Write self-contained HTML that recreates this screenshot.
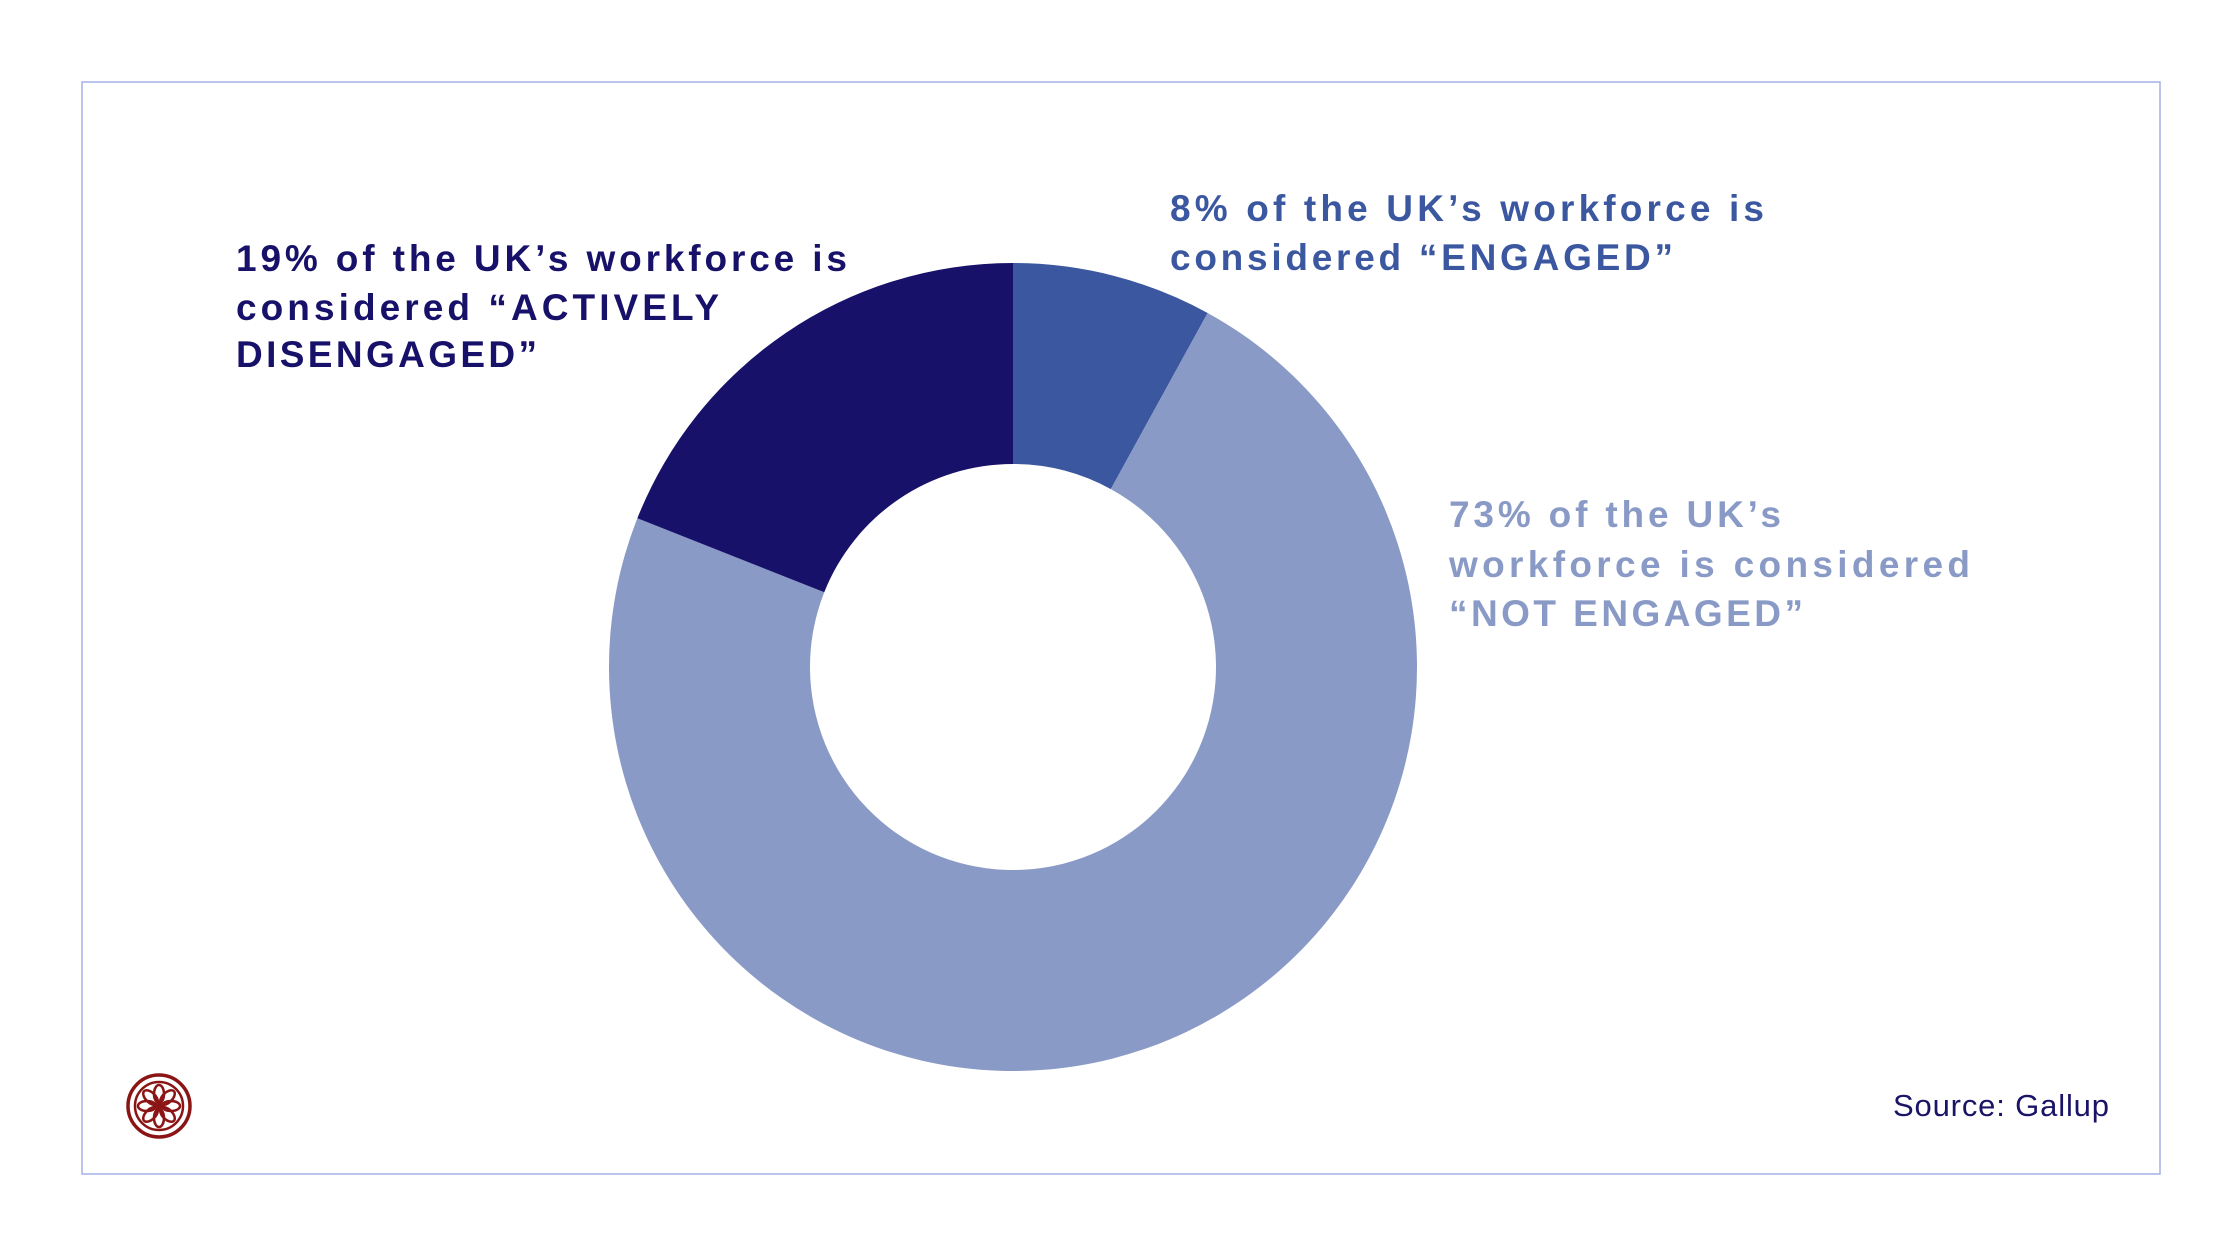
<!DOCTYPE html>
<html><head><meta charset="utf-8"><style>
html,body{margin:0;padding:0;background:#fff;}
svg{display:block;font-family:"Liberation Sans",sans-serif;}
</style></head><body>
<svg width="2240" height="1260" viewBox="0 0 2240 1260">
<rect x="82" y="82" width="2078" height="1092" fill="#fff" stroke="#a4b0e6" stroke-width="1.5"/>
<g id="donut"></g>
<g font-weight="bold" font-size="37">
<text x="236" y="271" textLength="611" lengthAdjust="spacing" fill="#17116a">19% of the UK’s workforce is</text>
<text x="236" y="320" textLength="483" lengthAdjust="spacing" fill="#17116a">considered “ACTIVELY</text>
<text x="236" y="367" textLength="301" lengthAdjust="spacing" fill="#17116a">DISENGAGED”</text>
<text x="1170" y="221" textLength="594" lengthAdjust="spacing" fill="#3a57a0">8% of the UK’s workforce is</text>
<text x="1170" y="270" textLength="503" lengthAdjust="spacing" fill="#3a57a0">considered “ENGAGED”</text>
<text x="1449" y="527" textLength="332" lengthAdjust="spacing" fill="#8a9ac6">73% of the UK’s</text>
<text x="1449" y="577" textLength="521" lengthAdjust="spacing" fill="#8a9ac6">workforce is considered</text>
<text x="1449" y="626" textLength="354" lengthAdjust="spacing" fill="#8a9ac6">“NOT ENGAGED”</text>
</g>
<text x="1893" y="1116" font-size="31" textLength="216" lengthAdjust="spacing" fill="#1a1466">Source: Gallup</text>
<g transform="translate(159,1106)" fill="none" stroke="#8b1414">
<circle r="31" stroke-width="3.5"/><circle r="24" stroke-width="2.5"/>
<g id="petals"></g>
<circle r="3.5" fill="#8b1414" stroke="none"/>
</g>
</svg>
<script>
const categories = ["Engaged","Not engaged","Actively disengaged"];
const values = [8, 73, 19];
const colors = ["#3a57a0","#8a9ac6","#17116a"];
const cx=1013, cy=667, R=404, r=203;
const g=document.getElementById('donut');
const total=values.reduce((a,b)=>a+b,0);
let acc=0;
function pt(rad,f){const a=f*2*Math.PI-Math.PI/2;return [cx+rad*Math.cos(a),cy+rad*Math.sin(a)];}
values.forEach((v,i)=>{
  const f0=acc/total, f1=(acc+v)/total; acc+=v;
  const large=(f1-f0)>0.5?1:0;
  const [x0,y0]=pt(R,f0),[x1,y1]=pt(R,f1),[x2,y2]=pt(r,f1),[x3,y3]=pt(r,f0);
  const p=document.createElementNS('http://www.w3.org/2000/svg','path');
  p.setAttribute('d',`M${x0},${y0}A${R},${R} 0 ${large} 1 ${x1},${y1}L${x2},${y2}A${r},${r} 0 ${large} 0 ${x3},${y3}Z`);
  p.setAttribute('fill',colors[i]);
  
  
  g.appendChild(p);
});
const pg=document.getElementById('petals');
for(let k=0;k<8;k++){
  const e=document.createElementNS('http://www.w3.org/2000/svg','ellipse');
  e.setAttribute('cx','0');e.setAttribute('cy','-12');e.setAttribute('rx','5');e.setAttribute('ry','9');
  e.setAttribute('stroke-width','2.5');
  e.setAttribute('transform','rotate('+(k*45)+')');
  
  
  pg.appendChild(e);
}
</script>
</body></html>
